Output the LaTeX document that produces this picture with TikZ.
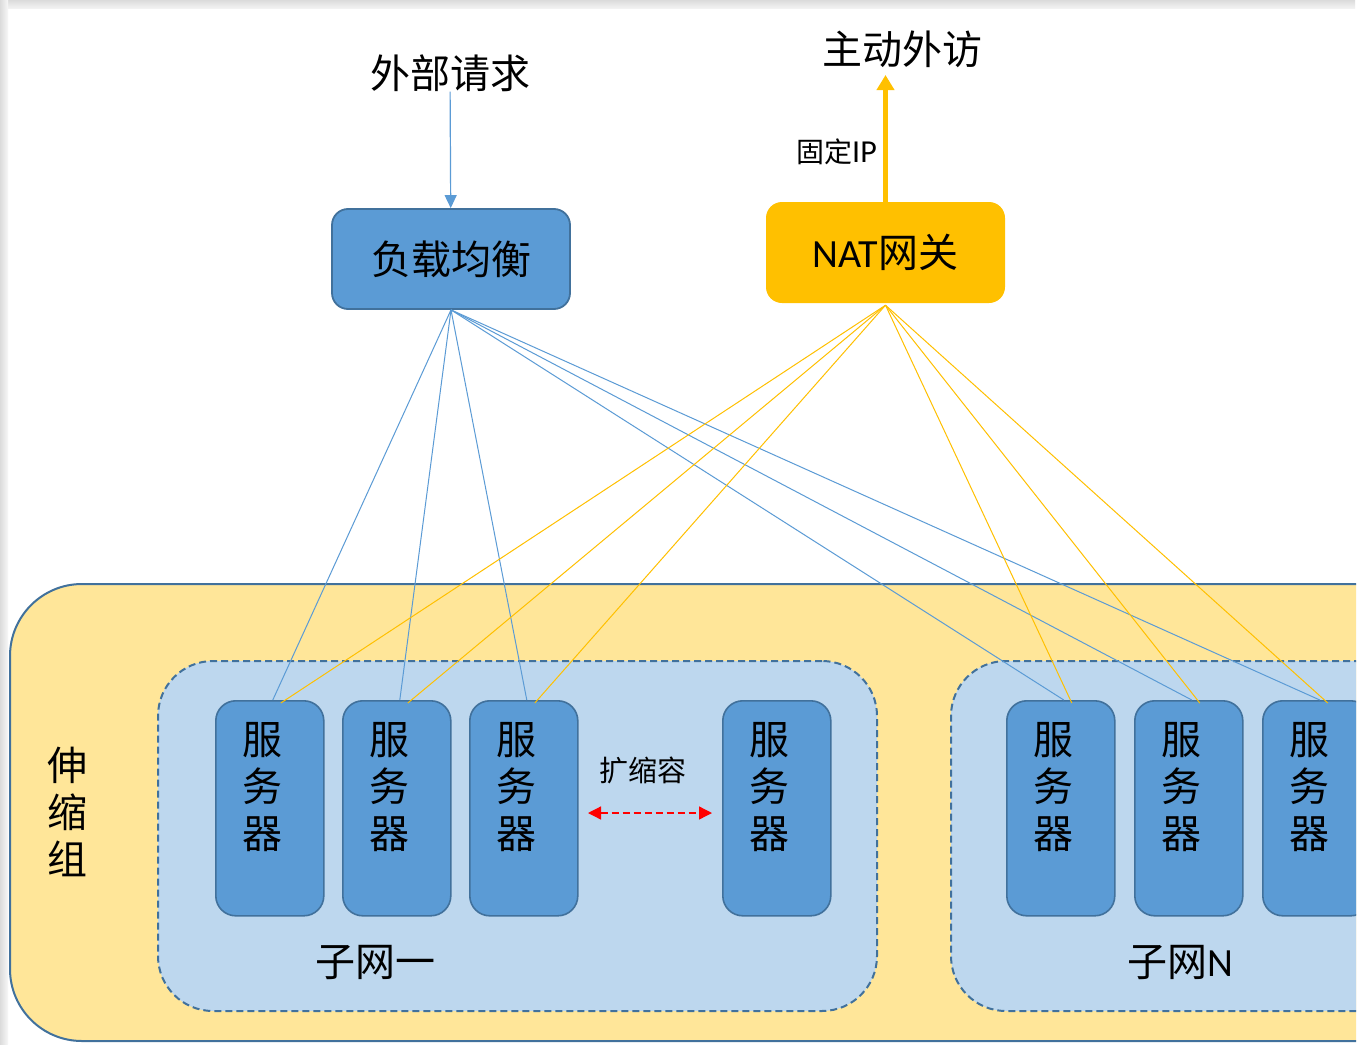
\documentclass[tikz,border=0pt]{standalone}
\usepackage{fontspec}
\setmainfont{Carlito}
\newfontfamily\cjk{Noto Sans CJK SC}
\usetikzlibrary{arrows.meta}
\definecolor{srvblue}{HTML}{5B9BD5}
\definecolor{srvedge}{HTML}{41719C}
\definecolor{subblue}{HTML}{BDD7EE}
\definecolor{grpyel}{HTML}{FFE699}
\definecolor{natorg}{HTML}{FFC000}
\begin{document}
\begin{tikzpicture}[x=1pt,y=-1pt,
  grpbox/.style={draw=srvedge, line width=2pt, fill=grpyel, rounded corners=72pt, anchor=north west, inner sep=0pt},
  subbox/.style={draw=srvedge, line width=2pt, dash pattern=on 7pt off 4pt, fill=subblue, rounded corners=55pt, anchor=north west, inner sep=0pt},
  server/.style={draw=srvedge, line width=1.6pt, fill=srvblue, rounded corners=20pt, minimum width=108pt, minimum height=215pt, inner sep=0pt, anchor=north west,
     label={[srvtext]north:{服\\务\\器}}},
  srvtext/.style={anchor=north, align=center, inner sep=0pt, font=\cjk\fontsize{40}{47}\selectfont, yshift=-22pt, xshift=-7pt},
  bigtext/.style={inner sep=0pt, font=\cjk\fontsize{40}{47}\selectfont},
  midtext/.style={inner sep=0pt, font=\cjk\fontsize{29}{34}\selectfont},
  lbbox/.style={draw=srvedge, line width=1.8pt, fill=srvblue, rounded corners=16pt, minimum width=238pt, minimum height=100pt, inner sep=0pt, font=\cjk\fontsize{40}{47}\selectfont},
  natbox/.style={fill=natorg, rounded corners=16pt, minimum width=239pt, minimum height=101pt, inner sep=0pt, font=\fontsize{40}{47}\selectfont},
  blueline/.style={draw=srvblue, line width=1pt},
  yelline/.style={draw=natorg, line width=1pt},
  reqarrow/.style={draw=srvblue, line width=1.2pt, -{Triangle[width=12pt,length=13pt]}},
  natarrow/.style={draw=natorg, line width=5pt, -{Triangle[width=17pt,length=15pt]}},
  scalearrow/.style={draw=red, line width=1.3pt, dash pattern=on 7pt off 4pt, {Triangle[width=13pt,length=13pt]}-{Triangle[width=13pt,length=13pt]}}
]
\useasboundingbox (0,0) rectangle (1365,1044);
\fill[white] (0,0) rectangle (1365,1044);
\shade[top color=gray!28, bottom color=gray!10] (0,0) rectangle (1355,8);
\shade[left color=gray!28, right color=gray!6] (0,0) rectangle (8,1044);

\begin{scope}
\clip (0,0) rectangle (1356,1044);
% scaling group
\node[grpbox, minimum width=1450pt, minimum height=457pt] (grp) at (9,583) {};
\node[bigtext, align=center] (grplbl) at (67,812) {伸\\缩\\组};
% subnets
\node[subbox, minimum width=719pt, minimum height=350pt] (sub1) at (157,660) {};
\node[subbox, minimum width=520pt, minimum height=350pt] (subn) at (950,660) {};
\node[bigtext] (sub1lbl) at (375,962) {子网一};
\node[bigtext] (subnlbl) at (1180,962) {子网{\fontspec{Carlito}N}};
% servers
\node[server] (s1) at (215,700) {};
\node[server] (s2) at (342,700) {};
\node[server] (s3) at (469,700) {};
\node[server] (s4) at (722,700) {};
\node[server] (s5) at (1006,700) {};
\node[server] (s6) at (1134,700) {};
\node[server] (s7) at (1262,700) {};
% scaling arrow
\node[midtext] (scale) at (643,770) {扩缩容};
\coordinate (ra) at (588,813);
\coordinate (rb) at (712,813);
\draw[scalearrow] (ra) -- (rb);
% top boxes
\node[lbbox] (lb) at (451,259) {负载均衡};
\node[natbox] (nat) at (885.5,252.5) {NAT{\cjk 网关}};
\node[bigtext] (ext) at (450,73) {外部请求};
\node[bigtext] (out) at (902,49) {主动外访};
\node[inner sep=0pt, anchor=east] (fixip) at (877,152) {{\cjk\fontsize{28}{32}\selectfont 固定}{\fontsize{32}{36}\selectfont IP}};
\coordinate (natup) at (885.5,75);
\draw[reqarrow] (ext) -- (lb);
\draw[natarrow] (nat.north) -- (natup);
% connectors from load balancer
\foreach \s in {s1,s2,s3,s5,s6,s7}{
  \draw[blueline] (lb.south) -- ([xshift=3pt]\s.north);
}
% connectors from NAT gateway
\foreach \s in {s1,s2,s3,s5,s6,s7}{
  \draw[yelline] ([yshift=-2pt]nat.south) -- ([xshift=11pt,yshift=-3pt]\s.north);
}
\end{scope}
\end{tikzpicture}
\end{document}
